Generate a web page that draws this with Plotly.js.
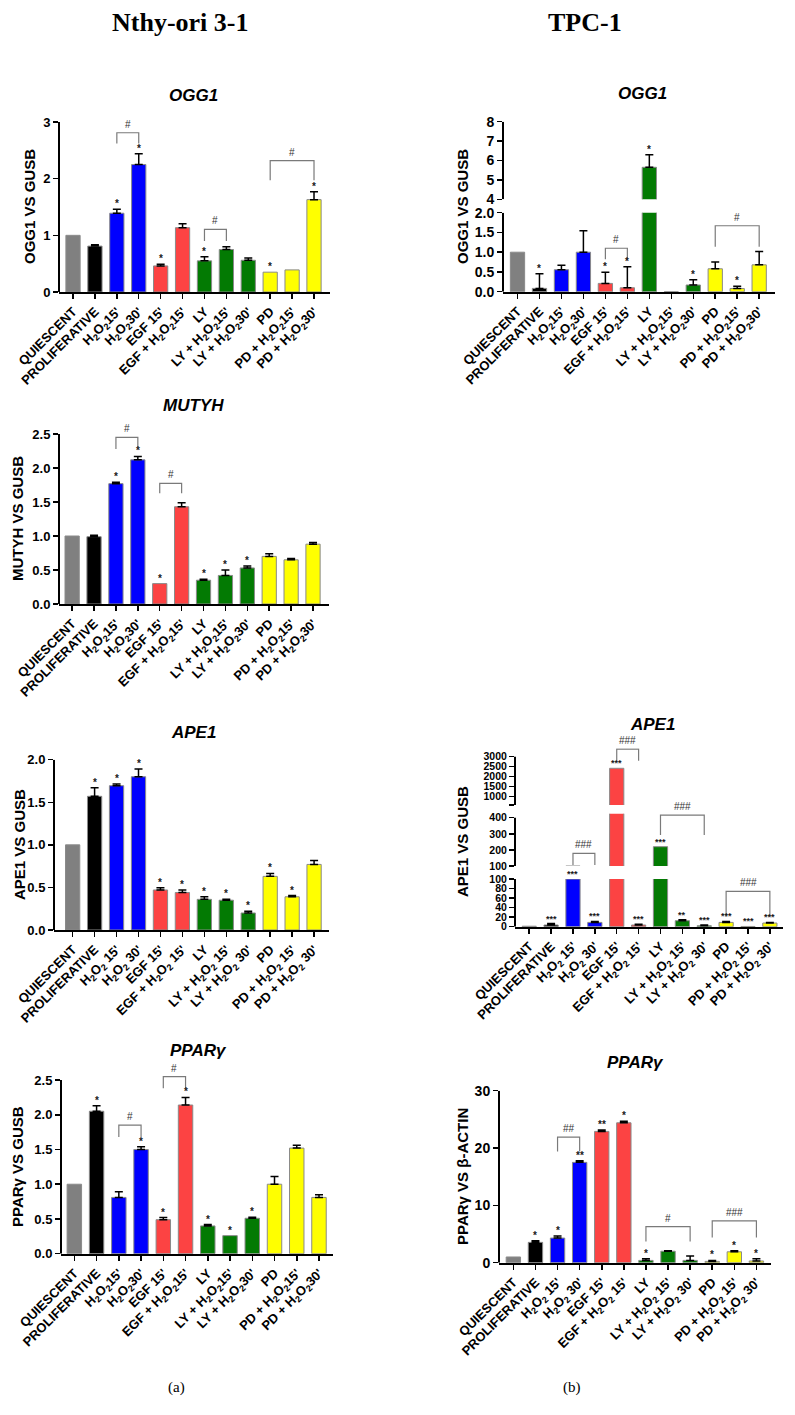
<!DOCTYPE html>
<html>
<head>
<meta charset="utf-8">
<script src="https://cdn.plot.ly/plotly-3.0.1.min.js"></script>
<style>
html,body{margin:0;padding:0;background:#fff;}
#chart{width:795px;height:1415px;}
</style>
</head>
<body>
<div id="chart"></div>
<script>
// ---------------- DATA ----------------
const H2O2 = 'H<sub>2</sub>O<sub>2</sub>';
const labelsTight = ['QUIESCENT', 'PROLIFERATIVE', H2O2 + "15'", H2O2 + "30'", "EGF 15'", 'EGF + ' + H2O2 + "15'",
  'LY', 'LY + ' + H2O2 + "15'", 'LY + ' + H2O2 + "30'", 'PD', 'PD + ' + H2O2 + "15'", 'PD + ' + H2O2 + "30'"];
const labelsSpaced = ['QUIESCENT', 'PROLIFERATIVE', H2O2 + " 15'", H2O2 + " 30'", "EGF 15'", 'EGF + ' + H2O2 + " 15'",
  'LY', 'LY + ' + H2O2 + " 15'", 'LY + ' + H2O2 + " 30'", 'PD', 'PD + ' + H2O2 + " 15'", 'PD + ' + H2O2 + " 30'"];
const barColors = ['#808080', '#000000', '#0000ff', '#0000ff', '#fc4343', '#fc4343',
  '#037a03', '#037a03', '#037a03', '#ffff00', '#ffff00', '#ffff00'];

// Nthy-ori 3-1, OGG1
const nthyOggValues = [1.00, 0.81, 1.39, 2.25, 0.46, 1.135, 0.55, 0.75, 0.56, 0.35, 0.39, 1.63];
const nthyOggErrors = [0, 0.025, 0.07, 0.19, 0.03, 0.07, 0.07, 0.05, 0.04, 0, 0, 0.14];
const nthyOggSig = ['', '', '*', '*', '*', '', '*', '', '', '*', '', '*'];
const nthyOggBrackets = [[2, 3, 2.81, 2.62, 2.62, '#'], [6, 7, 1.105, 0.9, 0.9, '#'], [9, 11, 2.32, 1.97, 1.97, '#']];

// Nthy-ori 3-1, MUTYH
const nthyMutyhValues = [1.00, 0.99, 1.77, 2.12, 0.30, 1.43, 0.35, 0.42, 0.53, 0.70, 0.65, 0.88];
const nthyMutyhErrors = [0, 0.02, 0.02, 0.05, 0, 0.06, 0.015, 0.08, 0.03, 0.04, 0.02, 0.025];
const nthyMutyhSig = ['', '', '*', '*', '*', '', '*', '*', '*', '', '', ''];
const nthyMutyhBrackets = [[2, 3, 2.45, 2.28, 2.31, '#'], [4, 5, 1.775, 1.63, 1.63, '#']];

// Nthy-ori 3-1, APE1
const nthyApeValues = [1.00, 1.57, 1.695, 1.80, 0.47, 0.44, 0.36, 0.35, 0.20, 0.63, 0.39, 0.77];
const nthyApeErrors = [0, 0.10, 0.02, 0.09, 0.025, 0.03, 0.03, 0.01, 0.02, 0.035, 0.015, 0.045];
const nthyApeSig = ['', '*', '*', '*', '*', '*', '*', '*', '*', '*', '*', ''];
const nthyApeBrackets = [];

// Nthy-ori 3-1, PPARgamma
const nthyPparValues = [1.00, 2.05, 0.81, 1.50, 0.49, 2.14, 0.40, 0.26, 0.51, 1.00, 1.52, 0.81];
const nthyPparErrors = [0, 0.08, 0.08, 0.04, 0.03, 0.11, 0.02, 0, 0.015, 0.11, 0.04, 0.04];
const nthyPparSig = ['', '*', '', '*', '*', '*', '*', '*', '*', '', '', ''];
const nthyPparBrackets = [[2, 3, 1.85, 1.68, 1.68, '#'], [4, 5, 2.55, 2.38, 2.38, '#']];

// TPC-1, OGG1
const tpcOggValues = [1.00, 0.084, 0.557, 1.00, 0.21, 0.10, 5.65, 0, 0.17, 0.58, 0.08, 0.68];
const tpcOggErrors = [0, 0.37, 0.11, 0.54, 0.28, 0.53, 0.65, 0, 0.13, 0.17, 0.06, 0.34];
const tpcOggSig = ['', '*', '', '', '*', '*', '*', '', '*', '', '*', ''];
const tpcOggBrackets = [[4, 5, 1.10, 0.82, 0.82, '#'], [9, 11, 1.67, 1.14, 1.14, '#']];

// TPC-1, APE1
const tpcApeValues = [1, 3.5, 100, 9, 2420, 3.5, 220, 12.6, 2, 9, 0.5, 7.7];
const tpcApeErrors = [0, 3, 0, 2, 0, 1.5, 0, 2.1, 1.5, 2, 0, 1.3];
const tpcApeSig = ['', '***', '***', '***', '***', '***', '***', '**', '***', '***', '***', '***'];
const tpcApeBrackets = [[2, 3, 178.7, 106, 106, '###'], [4, 5, 3383, 2800, 2800, '###'],
  [6, 8, 416.6, 292.5, 292.5, '###'], [9, 11, 74, 21, 21, '###']];

// TPC-1, PPARgamma
const tpcPparValues = [1.0, 3.55, 4.3, 17.5, 22.9, 24.4, 0.4, 2.0, 0.4, 0.23, 1.9, 0.3];
const tpcPparErrors = [0, 0.3, 0.35, 0.3, 0.25, 0.25, 0.3, 0.1, 0.76, 0.17, 0.2, 0.4];
const tpcPparSig = ['', '*', '*', '**', '**', '*', '*', '', '', '*', '*', '*'];
const tpcPparBrackets = [[2, 3, 21.9, 19.4, 19.4, '##'], [6, 8, 6.3, 3.7, 3.7, '#'], [9, 11, 7.3, 4.4, 4.4, '###']];

// ---------------- LAYOUT ----------------
const W = 795, H = 1415;
const fx = px => px / W;
const fy = px => 1 - px / H;
const SANS = 'Liberation Sans, Arial, sans-serif';
const SERIF = 'Liberation Serif, Times New Roman, serif';

const panels = [
  { title: 'OGG1', ytitle: 'OGG1 VS GUSB', labels: labelsTight, val: nthyOggValues, err: nthyOggErrors, sig: nthyOggSig, br: nthyOggBrackets,
    x: [59, 330], xr: [-0.64, 11.73], tickSize: 13, starSize: 10, tpos: [193, 95], ypos: [29, 207],
    segs: [{ r: [0, 3], px: [292, 122], tv: [0, 1, 2, 3], tt: ['0', '1', '2', '3'], line: [0, 3] }] },
  { title: 'MUTYH', ytitle: 'MUTYH VS GUSB', labels: labelsTight, val: nthyMutyhValues, err: nthyMutyhErrors, sig: nthyMutyhSig, br: nthyMutyhBrackets,
    x: [59, 329], xr: [-0.6, 11.73], tickSize: 13, starSize: 10, tpos: [193, 405], ypos: [17, 519],
    segs: [{ r: [0, 2.5], px: [604, 434], tv: [0, 0.5, 1, 1.5, 2, 2.5], tt: ['0.0', '0.5', '1.0', '1.5', '2.0', '2.5'], line: [0, 2.5] }] },
  { title: 'APE1', ytitle: 'APE1 VS GUSB', labels: labelsSpaced, val: nthyApeValues, err: nthyApeErrors, sig: nthyApeSig, br: nthyApeBrackets,
    x: [54, 329], xr: [-0.85, 11.68], tickSize: 13, starSize: 10, tpos: [193, 732], ypos: [19, 845],
    segs: [{ r: [0, 2], px: [930, 759.7], tv: [0, 0.5, 1, 1.5, 2], tt: ['0.0', '0.5', '1.0', '1.5', '2.0'], line: [0, 2] }] },
  { title: 'PPAR\u03b3', ytitle: 'PPAR\u03b3 VS GUSB', labels: labelsTight, val: nthyPparValues, err: nthyPparErrors, sig: nthyPparSig, br: nthyPparBrackets,
    x: [61, 333], xr: [-0.6, 11.63], tickSize: 13, starSize: 10, tpos: [198, 1050], ypos: [17, 1167],
    segs: [{ r: [0, 2.65], px: [1253.7, 1069.6], tv: [0, 0.5, 1, 1.5, 2, 2.5], tt: ['0.0', '0.5', '1.0', '1.5', '2.0', '2.5'], line: [0, 2.5] }] },
  { title: 'OGG1', ytitle: 'OGG1 VS GUSB', labels: labelsTight, val: tpcOggValues, err: tpcOggErrors, sig: tpcOggSig, br: tpcOggBrackets,
    x: [503, 775], xr: [-0.66, 11.72], tickSize: 14, starSize: 10, tpos: [642, 93], ypos: [462, 207],
    segs: [{ r: [0, 2], px: [291.7, 212.7], tv: [0, 0.5, 1, 1.5, 2], tt: ['0.0', '0.5', '1.0', '1.5', '2.0'], line: [0, 2] },
           { r: [4, 8], px: [199.3, 121.7], tv: [4, 5, 6, 7, 8], tt: ['4', '5', '6', '7', '8'], line: [4, 8] }] },
  { title: 'APE1', ytitle: 'APE1 VS GUSB', labels: labelsSpaced, val: tpcApeValues, err: tpcApeErrors, sig: tpcApeSig, br: tpcApeBrackets,
    x: [515, 783], xr: [-0.65, 11.6], tickSize: 10.5, starSize: 9, tpos: [652, 724], ypos: [462, 842],
    segs: [{ r: [0, 100], px: [926.7, 879], tv: [0, 20, 40, 60, 80, 100], tt: ['0', '20', '40', '60', '80', '100'], line: [0, 100] },
           { r: [100, 425], px: [866, 813.7], tv: [100, 200, 300, 400], tt: ['100', '200', '300', '400'], line: [100, 400] },
           { r: [583, 3420], px: [805, 748.3], tv: [583, 1000, 1500, 2000, 2500, 3000], tt: ['', '1000', '1500', '2000', '2500', '3000'], line: [583, 3000] }] },
  { title: 'PPAR\u03b3', ytitle: 'PPAR\u03b3 VS \u03b2-ACTIN', labels: labelsSpaced, val: tpcPparValues, err: tpcPparErrors, sig: tpcPparSig, br: tpcPparBrackets,
    x: [499, 771], xr: [-0.65, 11.66], tickSize: 14, starSize: 10, tpos: [635, 1062], ypos: [462, 1177],
    segs: [{ r: [0, 30], px: [1262.7, 1090.7], tv: [0, 10, 20, 30], tt: ['0', '10', '20', '30'], line: [0, 30] }] }
];

const traces = [];
const layout = {
  width: W, height: H,
  margin: { l: 0, r: 0, t: 0, b: 0 },
  paper_bgcolor: '#ffffff', plot_bgcolor: 'rgba(0,0,0,0)',
  showlegend: false, hovermode: false, bargap: 0.35,
  font: { family: SANS, color: '#000' },
  annotations: [], shapes: []
};

const axKey = (c, n) => (n === 1 ? c + 'axis' : c + 'axis' + n);
const axRef = (c, n) => (n === 1 ? c : c + n);

let xn = 0, yn = 0;
panels.forEach(p => {
  xn += 1;
  const xid = axRef('x', xn);
  const yids = p.segs.map(() => { yn += 1; return yn; });

  layout[axKey('x', xn)] = {
    domain: [fx(p.x[0]), fx(p.x[1])], range: p.xr, type: 'category',
    anchor: axRef('y', yids[0]), showline: true, linecolor: '#000', linewidth: 2,
    ticks: 'outside', ticklen: 5, tickwidth: 1.5, tickcolor: '#000', tickangle: -45,
    tickfont: { family: SANS, size: 13, weight: 'bold', color: '#000' },
    showgrid: false, zeroline: false, fixedrange: true
  };

  const errPlus = p.err.map(e => (e > 0 ? e : NaN));

  p.segs.forEach((s, k) => {
    const yid = axRef('y', yids[k]);
    layout[axKey('y', yids[k])] = {
      domain: [fy(s.px[0]), fy(s.px[1])], range: s.r, anchor: xid,
      showline: false, ticks: 'outside', ticklen: 5, tickwidth: 1.5, tickcolor: '#000',
      tickmode: 'array', tickvals: s.tv, ticktext: s.tt,
      tickfont: { family: SANS, size: p.tickSize, weight: 'bold', color: '#000' },
      showgrid: false, zeroline: false, fixedrange: true
    };
    traces.push({
      type: 'bar', x: p.labels, y: p.val, xaxis: xid, yaxis: yid,
      marker: { color: barColors, line: { color: '#8a8a8a', width: 1 } },
      error_y: { type: 'data', symmetric: false, array: errPlus, color: '#000', thickness: 1.5, width: 4 },
      hoverinfo: 'skip'
    });
    layout.shapes.push({
      type: 'line', xref: xid + ' domain', yref: yid, x0: 0, x1: 0, y0: s.line[0], y1: s.line[1],
      line: { color: '#000', width: 2 }
    });
  });

  const segFor = v => {
    for (let k = 0; k < p.segs.length; k++) {
      if (v <= p.segs[k].r[1]) return axRef('y', yids[k]);
    }
    return axRef('y', yids[yids.length - 1]);
  };

  // significance marks
  p.sig.forEach((t, i) => {
    if (!t) return;
    const v = p.val[i] + p.err[i];
    layout.annotations.push({
      x: i, y: v, xref: xid, yref: segFor(v), text: t, showarrow: false,
      xanchor: 'center', yanchor: 'bottom', yshift: -2,
      font: { family: SANS, size: p.starSize, weight: 'bold', color: '#1a1a1a' }
    });
  });

  // comparison brackets
  p.br.forEach(b => {
    const [i, j, top, legL, legR, lab] = b;
    const yid = segFor(top);
    traces.push({
      type: 'scatter', mode: 'lines', xaxis: xid, yaxis: yid,
      x: [p.labels[i], p.labels[i], p.labels[j], p.labels[j]], y: [legL, top, top, legR],
      line: { color: '#7a7a7a', width: 1.2 }, hoverinfo: 'skip'
    });
    layout.annotations.push({
      x: (i + j) / 2, y: top, xref: xid, yref: yid, text: lab, showarrow: false,
      xanchor: 'center', yanchor: 'bottom', yshift: 1,
      font: { family: SANS, size: 10, color: '#333' }
    });
  });

  // panel title and y title
  layout.annotations.push({
    x: fx(p.tpos[0]), y: fy(p.tpos[1]), xref: 'paper', yref: 'paper', text: p.title, showarrow: false,
    xanchor: 'center', yanchor: 'middle',
    font: { family: SANS, size: 17, weight: 'bold', style: 'italic', color: '#000' }
  });
  layout.annotations.push({
    x: fx(p.ypos[0]), y: fy(p.ypos[1]), xref: 'paper', yref: 'paper', text: p.ytitle, showarrow: false,
    textangle: -90, xanchor: 'center', yanchor: 'middle',
    font: { family: SANS, size: 15, weight: 'bold', color: '#000' }
  });
});

// column headers and panel letters
const headers = [['Nthy-ori 3-1', 180, 23], ['TPC-1', 585, 23]];
headers.forEach(h => layout.annotations.push({
  x: fx(h[1]), y: fy(h[2]), xref: 'paper', yref: 'paper', text: h[0], showarrow: false,
  xanchor: 'center', yanchor: 'middle', font: { family: SERIF, size: 26, weight: 'bold', color: '#000' }
}));
const letters = [['(a)', 176, 1387], ['(b)', 572, 1387]];
letters.forEach(h => layout.annotations.push({
  x: fx(h[1]), y: fy(h[2]), xref: 'paper', yref: 'paper', text: h[0], showarrow: false,
  xanchor: 'center', yanchor: 'middle', font: { family: SERIF, size: 15, color: '#000' }
}));

Plotly.newPlot('chart', traces, layout, { staticPlot: true, displayModeBar: false });
</script>
</body>
</html>
